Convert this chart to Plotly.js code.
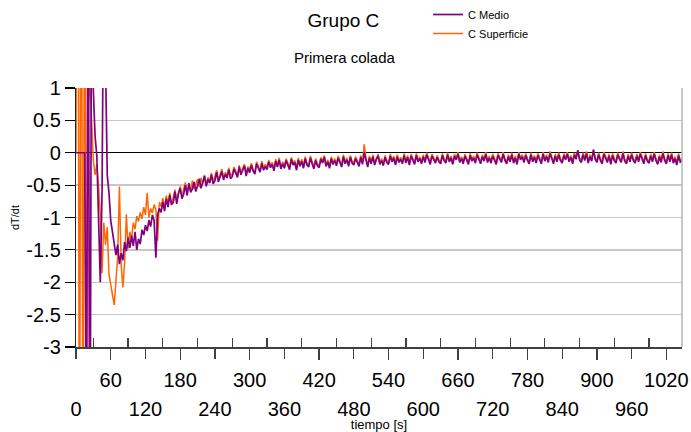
<!DOCTYPE html>
<html>
<head>
<meta charset="utf-8">
<script src="https://cdn.plot.ly/plotly-3.0.1.min.js"></script>
<style>html,body{margin:0;padding:0;background:#fff;}#chart{width:691px;height:432px;}</style>
</head>
<body>
<div id="chart"></div>
<script>
// tiempo [s]
const tiempo = [
0,3,6,9,12,15,18,21,24,27,
30,33,36,39,42,45,48,51,54,57,
60,63,66,69,72,75,78,81,84,87,
90,93,96,99,102,105,108,111,114,117,
120,123,126,129,132,135,138,141,144,147,
150,153,156,159,162,165,168,171,174,177,
180,183,186,189,192,195,198,201,204,207,
210,213,216,219,222,225,228,231,234,237,
240,243,246,249,252,255,258,261,264,267,
270,273,276,279,282,285,288,291,294,297,
300,303,306,309,312,315,318,321,324,327,
330,333,336,339,342,345,348,351,354,357,
360,363,366,369,372,375,378,381,384,387,
390,393,396,399,402,405,408,411,414,417,
420,423,426,429,432,435,438,441,444,447,
450,453,456,459,462,465,468,471,474,477,
480,483,486,489,492,495,498,501,504,507,
510,513,516,519,522,525,528,531,534,537,
540,543,546,549,552,555,558,561,564,567,
570,573,576,579,582,585,588,591,594,597,
600,603,606,609,612,615,618,621,624,627,
630,633,636,639,642,645,648,651,654,657,
660,663,666,669,672,675,678,681,684,687,
690,693,696,699,702,705,708,711,714,717,
720,723,726,729,732,735,738,741,744,747,
750,753,756,759,762,765,768,771,774,777,
780,783,786,789,792,795,798,801,804,807,
810,813,816,819,822,825,828,831,834,837,
840,843,846,849,852,855,858,861,864,867,
870,873,876,879,882,885,888,891,894,897,
900,903,906,909,912,915,918,921,924,927,
930,933,936,939,942,945,948,951,954,957,
960,963,966,969,972,975,978,981,984,987,
990,993,996,999,1002,1005,1008,1011,1014,1017,
1020,1023,1026,1029,1032,1035,1038,1041,1044,1047
];

// C Medio (dT/dt)
const cMedio = [
0,0,0,0,0,0,-4.8,4.2,-6.5,3.6,
0.95,0.25,-0.05,-0.85,-2.0,-0.6,3.2,1.4,-0.35,-0.62,
-1.05,-1.22,-1.38,-1.58,-1.42,-1.72,-1.55,-1.66,-1.38,-1.52,
-1.31,-1.47,-1.28,-1.44,-1.22,-1.5,-1.33,-1.41,-1.19,-1.27,
-1.12,-1.21,-1.04,-1.14,-0.96,-1.05,-1.62,-0.96,-0.86,-0.92,
-0.76,-0.9,-0.71,-0.84,-0.65,-0.8,-0.77,-0.6,-0.79,-0.63,
-0.55,-0.71,-0.64,-0.5,-0.66,-0.47,-0.61,-0.56,-0.45,-0.6,
-0.51,-0.4,-0.55,-0.45,-0.36,-0.52,-0.41,-0.47,-0.34,-0.48,
-0.43,-0.3,-0.45,-0.37,-0.29,-0.42,-0.33,-0.39,-0.26,-0.4,
-0.37,-0.25,-0.31,-0.38,-0.22,-0.34,-0.27,-0.2,-0.36,-0.24,
-0.31,-0.19,-0.28,-0.33,-0.17,-0.25,-0.3,-0.16,-0.27,-0.21,
-0.26,-0.14,-0.23,-0.18,-0.28,-0.13,-0.22,-0.11,-0.25,-0.17,
-0.24,-0.12,-0.2,-0.26,-0.1,-0.19,-0.15,-0.27,-0.11,-0.21,
-0.13,-0.24,-0.09,-0.19,-0.22,-0.08,-0.17,-0.25,-0.12,-0.2,
-0.23,-0.1,-0.16,-0.07,-0.21,-0.14,-0.24,-0.09,-0.18,-0.12,
-0.2,-0.08,-0.15,-0.22,-0.06,-0.17,-0.11,-0.21,-0.07,-0.16,
-0.19,-0.09,-0.15,-0.21,-0.07,-0.18,0.0,-0.12,-0.22,-0.08,
-0.17,-0.06,-0.19,-0.1,-0.05,-0.18,-0.12,-0.2,-0.07,-0.15,
-0.18,-0.05,-0.14,-0.08,-0.19,-0.06,-0.15,-0.1,-0.17,-0.04,
-0.16,-0.07,-0.19,-0.05,-0.12,-0.18,-0.04,-0.14,-0.09,-0.17,
-0.06,-0.15,-0.03,-0.12,-0.18,-0.05,-0.11,-0.16,-0.07,-0.14,
-0.17,-0.04,-0.12,-0.16,-0.03,-0.14,-0.08,-0.18,-0.05,-0.11,
-0.02,-0.15,-0.09,-0.17,-0.05,-0.12,-0.18,-0.04,-0.13,-0.08,
-0.16,-0.03,-0.11,-0.17,-0.06,-0.13,-0.02,-0.15,-0.08,-0.16,
-0.05,-0.13,-0.18,-0.04,-0.1,-0.15,-0.02,-0.12,-0.17,-0.06,
-0.14,-0.03,-0.16,-0.08,-0.18,-0.02,-0.11,-0.06,-0.15,-0.04,
-0.12,-0.17,-0.03,-0.14,-0.07,-0.16,-0.04,-0.1,-0.17,-0.02,
-0.13,-0.06,-0.15,-0.01,-0.11,-0.17,-0.05,-0.14,-0.03,-0.12,
-0.16,-0.04,-0.11,-0.02,-0.14,-0.07,-0.17,-0.03,-0.1,0.04,
-0.11,-0.15,-0.03,-0.12,-0.01,-0.16,-0.06,-0.13,0.05,-0.1,
-0.15,-0.03,-0.12,-0.17,-0.02,-0.1,-0.15,-0.05,-0.18,-0.04,
-0.12,-0.16,-0.03,-0.1,-0.15,-0.01,-0.13,-0.17,-0.05,-0.14,
-0.03,-0.12,-0.16,-0.05,-0.14,-0.02,-0.11,-0.17,-0.04,-0.13,
-0.16,-0.05,-0.14,-0.02,-0.12,-0.18,-0.06,-0.15,-0.01,-0.12,
-0.17,-0.04,-0.14,-0.03,-0.16,-0.09,-0.19,-0.04,-0.15,-0.11
];

// C Superficie (dT/dt)
const cSuperficie = [
0,7.5,-6.8,6.2,-5.5,4.0,-4.2,0.7,1.1,0.4,
-0.12,-0.34,-0.18,-0.52,-0.95,-1.86,-1.08,-1.42,-1.15,-1.88,
-2.05,-2.18,-2.35,-1.98,-1.6,-0.52,-1.72,-2.08,-1.7,-0.95,
-1.48,-1.22,-1.33,-1.08,-1.18,-0.98,-1.06,-0.92,-1.02,-0.84,
-0.96,-0.62,-1.0,-0.86,-0.93,-0.8,-0.88,-1.36,-0.76,-0.83,
-0.7,-0.85,-0.66,-0.78,-0.62,-0.81,-0.69,-0.57,-0.74,-0.6,
-0.52,-0.67,-0.57,-0.46,-0.63,-0.5,-0.58,-0.43,-0.56,-0.49,
-0.41,-0.53,-0.39,-0.48,-0.34,-0.5,-0.38,-0.44,-0.31,-0.45,
-0.36,-0.27,-0.42,-0.32,-0.25,-0.39,-0.3,-0.36,-0.23,-0.35,
-0.33,-0.22,-0.3,-0.35,-0.19,-0.31,-0.24,-0.18,-0.32,-0.21,
-0.27,-0.16,-0.26,-0.3,-0.14,-0.23,-0.28,-0.13,-0.24,-0.18,
-0.22,-0.11,-0.2,-0.15,-0.25,-0.1,-0.2,-0.08,-0.22,-0.14,
-0.2,-0.09,-0.17,-0.23,-0.07,-0.16,-0.12,-0.24,-0.08,-0.18,
-0.1,-0.21,-0.06,-0.16,-0.19,-0.05,-0.14,-0.22,-0.09,-0.17,
-0.2,-0.07,-0.13,-0.04,-0.18,-0.11,-0.21,-0.06,-0.15,-0.09,
-0.17,-0.05,-0.12,-0.19,-0.03,-0.14,-0.08,-0.18,-0.04,-0.13,
-0.16,-0.06,-0.12,-0.18,-0.04,-0.15,0.13,-0.09,-0.19,-0.05,
-0.14,-0.03,-0.16,-0.07,-0.02,-0.15,-0.09,-0.17,-0.04,-0.12,
-0.15,-0.02,-0.11,-0.05,-0.16,-0.03,-0.12,-0.07,-0.14,-0.01,
-0.13,-0.04,-0.16,-0.02,-0.09,-0.15,-0.01,-0.11,-0.06,-0.14,
-0.03,-0.12,0.0,-0.09,-0.15,-0.02,-0.08,-0.13,-0.04,-0.11,
-0.14,-0.01,-0.09,-0.13,0.0,-0.11,-0.05,-0.15,-0.02,-0.08,
0.01,-0.12,-0.06,-0.14,-0.02,-0.09,-0.15,-0.01,-0.1,-0.05,
-0.13,0.0,-0.08,-0.14,-0.03,-0.1,0.01,-0.12,-0.05,-0.13,
-0.02,-0.1,-0.15,-0.01,-0.07,-0.12,0.01,-0.09,-0.14,-0.03,
-0.11,0.0,-0.13,-0.05,-0.15,0.01,-0.08,-0.03,-0.12,-0.01,
-0.09,-0.14,0.0,-0.11,-0.04,-0.13,-0.01,-0.07,-0.14,0.01,
-0.1,-0.03,-0.12,0.02,-0.08,-0.14,-0.02,-0.11,0.0,-0.09,
-0.13,-0.01,-0.08,0.01,-0.11,-0.04,-0.14,0.0,-0.07,0.02,
-0.08,-0.12,0.0,-0.09,0.02,-0.13,-0.03,-0.1,0.03,-0.07,
-0.12,0.0,-0.09,-0.14,0.01,-0.07,-0.12,-0.02,-0.15,-0.01,
-0.09,-0.13,0.0,-0.07,-0.12,0.02,-0.1,-0.14,-0.02,-0.11,
0.0,-0.09,-0.13,-0.02,-0.11,0.01,-0.08,-0.14,-0.01,-0.1,
-0.13,-0.02,-0.11,0.01,-0.09,-0.15,-0.03,-0.12,0.02,-0.09,
-0.14,-0.01,-0.11,0.0,-0.13,-0.06,-0.16,-0.01,-0.12,-0.08
];

// tick labels
const oddTicks = [60,180,300,420,540,660,780,900,1020];
const evenTicks = [0,120,240,360,480,600,720,840,960];
const minorTicks = [30,90,150,210,270,330,390,450,510,570,630,690,750,810,870,930,990];
const yTicks = [-3,-2.5,-2,-1.5,-1,-0.5,0,0.5,1];
const yTickText = ["-3","-2.5","-2","-1.5","-1","-0.5","0","0.5","1"];

const FONT = "Liberation Sans, Arial, sans-serif";
const xRange = [0, 1047];

const traces = [
  {x: tiempo, y: cSuperficie, name: "C Superficie", type: "scatter", mode: "lines",
   xaxis: "x", yaxis: "y", line: {color: "#ff6600", width: 1.5}},
  {x: tiempo, y: cMedio, name: "C Medio", type: "scatter", mode: "lines",
   xaxis: "x2", yaxis: "y", line: {color: "#800080", width: 1.7}}
];

const layout = {
  width: 691, height: 432,
  margin: {l: 76, r: 9, t: 88, b: 85, pad: 0},
  paper_bgcolor: "#ffffff", plot_bgcolor: "#ffffff",
  font: {family: FONT, color: "#000000"},
  showlegend: true,
  title: {text: "Grupo C", font: {family: FONT, size: 19, color: "#000"},
          xref: "container", x: 0.497, xanchor: "center",
          yref: "container", y: 0.953, yanchor: "middle"},
  legend: {traceorder: "reversed", x: 0.581, xanchor: "left", yref: "container", y: 1, yanchor: "top",
           bgcolor: "rgba(0,0,0,0)", font: {family: FONT, size: 11, color: "#000"},
           itemwidth: 30, tracegroupgap: 0},
  xaxis: {range: xRange, autorange: false, tickmode: "array", tickvals: oddTicks,
          ticks: "outside", ticklen: 11, tickwidth: 1.2, tickcolor: "#404040",
          showline: true, linecolor: "#404040", linewidth: 1.5,
          showgrid: false, zeroline: false, ticklabelstandoff: 3,
          tickfont: {family: FONT, size: 20, color: "#000"},
          minor: {tickmode: "array", tickvals: minorTicks, ticks: "inside", ticklen: 9,
                  tickwidth: 1.2, tickcolor: "#404040", showgrid: false}},
  xaxis2: {overlaying: "x", anchor: "y", side: "bottom", range: xRange, autorange: false,
           tickmode: "array", tickvals: evenTicks,
           ticks: "outside", ticklen: 11, tickwidth: 1.2, tickcolor: "#404040",
           showline: false, showgrid: false, zeroline: false,
           ticklabelstandoff: 33,
           tickfont: {family: FONT, size: 20, color: "#000"},
           title: {text: "tiempo [s]", font: {family: FONT, size: 13, color: "#000"}, standoff: 0}},
  yaxis: {range: [-3, 1], autorange: false, tickmode: "array", tickvals: yTicks, ticktext: yTickText,
          ticks: "outside", ticklen: 10, tickwidth: 1.2, tickcolor: "#000",
          showline: true, linecolor: "#202020", linewidth: 1.2,
          showgrid: true, gridcolor: "#c8c8c8", gridwidth: 1.5,
          zeroline: true, zerolinecolor: "#000", zerolinewidth: 1.3,
          tickfont: {family: FONT, size: 20, color: "#000"},
          title: {text: "dT/dt", font: {family: FONT, size: 11, color: "#000"}, standoff: 4}},
  shapes: [{type: "line", xref: "paper", yref: "paper", x0: 1, x1: 1, y0: 0, y1: 1,
            line: {color: "#b4b4b4", width: 1.5}}],
  annotations: [{text: "Primera colada", xref: "paper", yref: "paper", x: 0.444, y: 1.116,
                 xanchor: "center", yanchor: "middle", showarrow: false,
                 font: {family: FONT, size: 15, color: "#000"}}]
};

Plotly.newPlot("chart", traces, layout, {staticPlot: true, displayModeBar: false});
</script>
</body>
</html>
